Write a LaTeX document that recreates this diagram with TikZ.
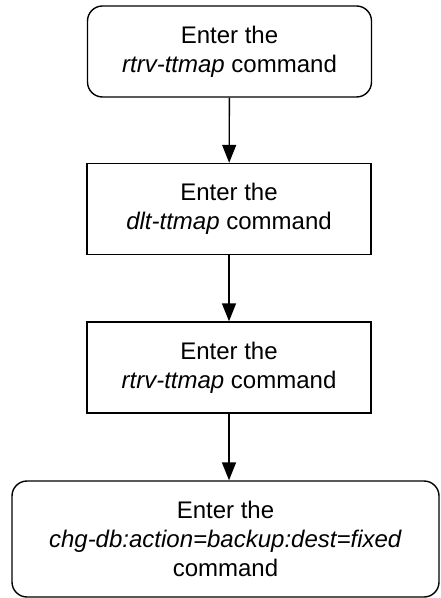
\documentclass[tikz,border=0pt]{standalone}
\usepackage{fontspec}
\setmainfont{Liberation Sans}
\usetikzlibrary{arrows.meta}
\begin{document}
\begin{tikzpicture}[x=0.5pt,y=-0.5pt]
\tikzset{stepbox/.style = {shape=rectangle,draw,line width=0.7pt,minimum width=142pt,minimum height=45.5pt,align=center,font=\fontsize{12}{14.5}\selectfont}}
\tikzset{endbox/.style = {stepbox,rounded corners=7.5pt}}
\tikzset{edge/.style = {-{Triangle[length=9pt,width=7pt]},line width=0.7pt}}
\useasboundingbox (0,0) rectangle (440,598);
% vertices
\node[endbox] (a) at (229.5,51.5) {Enter the\\\textit{rtrv-ttmap} command};
\node[stepbox] (b) at (229,209) {Enter the\\\textit{dlt-ttmap} command};
\node[stepbox] (c) at (229,367.5) {Enter the\\\textit{rtrv-ttmap} command};
\node[endbox,minimum width=213.5pt,minimum height=58pt] (d) at (225.5,539) {Enter the\\\textit{chg-db:action=backup:dest=fixed}\\command};
%edges
\draw[edge] (a) -- (b);
\draw[edge] (b) -- (c);
\draw[edge] (c) -- (c |- d.north);
\end{tikzpicture}
\end{document}
